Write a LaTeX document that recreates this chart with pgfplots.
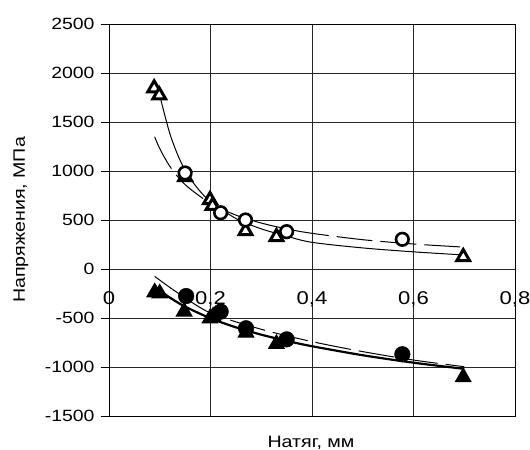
\documentclass[border=0pt]{standalone}
\usepackage{fontspec}
\setmainfont[FakeStretch=1.19]{Liberation Sans}
\usepackage{pgfplots}
\pgfplotsset{compat=1.18}
\newcommand\ytf{\fontsize{16.3bp}{19bp}\selectfont}
\newcommand\xtf{\fontsize{18.5bp}{21bp}\selectfont}
\newcommand\lbf{\fontsize{16.5bp}{19bp}\selectfont}
\begin{document}
\begin{tikzpicture}
\begin{axis}[
 scale only axis, width=406bp, height=392bp,
 xmin=0, xmax=0.8, ymin=-1500, ymax=2500,
 xtick={0,0.2,0.4,0.6,0.8}, xticklabels={,,,,}, xtick style={draw=none},
 ytick={-1500,-1000,...,2500},
 yticklabels={-1500,-1000,-500,0,500,1000,1500,2000,2500},
 yticklabel style={font=\ytf, xshift=-3bp},
 ytick pos=left, tick align=outside, major tick length=8bp,
 grid=major, major grid style={black!85, line width=0.8bp},
 axis line style={black, line width=0.9bp},
 ytick style={black, line width=0.8bp},
 clip=false,
]
% open triangles
\addplot[only marks, black, line width=3bp, mark=triangle*, mark size=7.4bp, mark options={fill=white, draw=black, solid, line width=3bp, line join=miter}]
 coordinates {(0.089,1845)(0.099,1773)(0.150,940)(0.199,705)(0.204,645)(0.269,388)(0.330,327)(0.698,123)};
% open circles
\addplot[only marks, black, line width=2.6bp, mark=*, mark size=6.3bp, mark options={fill=white, draw=black, solid, line width=2.6bp}]
 coordinates {(0.150,980)(0.220,574)(0.269,500)(0.350,381)(0.578,303)};
% filled triangles
\addplot[only marks, black, line width=1.2bp, mark=triangle*, mark size=8.8bp, mark options={fill=black, draw=black, solid, line width=1.2bp, line join=miter}]
 coordinates {(0.090,-238)(0.100,-249)(0.148,-434)(0.199,-504)(0.205,-484)(0.270,-649)(0.330,-764)(0.698,-1104)};
% filled circles
\addplot[only marks, black, line width=0.5bp, mark=*, mark size=7.8bp, mark options={fill=black, draw=black, solid}]
 coordinates {(0.152,-276)(0.220,-435)(0.270,-605)(0.350,-718)(0.578,-870)};
% trend lines
\addplot[black, line width=1bp, smooth, no marks]
 coordinates {(0.1,1771)(0.12,1380)(0.14,1110)(0.16,925)(0.18,790)(0.2,690)(0.25,515)(0.3,410)(0.35,335)(0.4,272)(0.5,215)(0.6,175)(0.7,143)};
\addplot[black, line width=1bp, smooth, no marks, dash pattern=on 36bp off 8bp]
 coordinates {(0.09,1349)(0.1,1229)(0.12,1047)(0.15,861)(0.2,669)(0.25,550)(0.3,469)(0.35,409)(0.4,364)(0.5,299)(0.6,255)(0.7,223)};
\addplot[black, line width=2.2bp, smooth, no marks]
 coordinates {(0.09,-174)(0.1,-217)(0.12,-292)(0.15,-384)(0.2,-503)(0.25,-595)(0.3,-670)(0.35,-733)(0.4,-788)(0.5,-880)(0.6,-956)(0.7,-1019)};
\addplot[black, line width=1bp, smooth, no marks, dash pattern=on 36bp off 8bp]
 coordinates {(0.09,-75)(0.133,-235)(0.2,-449)(0.3,-615)(0.4,-741)(0.5,-843)(0.6,-929)(0.7,-997)};
% x tick labels on the zero line
\node[font=\xtf, anchor=base] at (axis cs:0,-367) {0};
\node[font=\xtf, anchor=base] at (axis cs:0.2,-367) {0,2};
\node[font=\xtf, anchor=base] at (axis cs:0.4,-367) {0,4};
\node[font=\xtf, anchor=base] at (axis cs:0.6,-367) {0,6};
\node[font=\xtf, anchor=base] at (axis cs:0.8,-367) {0,8};
\coordinate (LL) at (rel axis cs:0,0);
\end{axis}
\node[font=\lbf, rotate=90, anchor=base] at ([shift={(-84bp,196bp)}]LL) {Напряжения, МПа};
\node[font=\lbf, anchor=base] at ([shift={(202bp,-31bp)}]LL) {Натяг, мм};
\pgfresetboundingbox
\path[use as bounding box] ([shift={(-109bp,-34bp)}]LL) rectangle ([shift={(421bp,416bp)}]LL);
\end{tikzpicture}
\end{document}
